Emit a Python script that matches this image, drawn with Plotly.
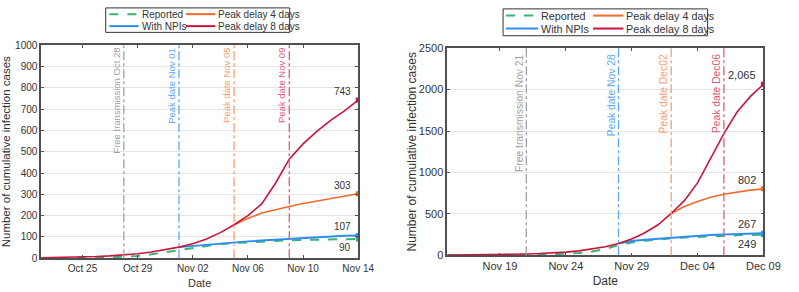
import plotly.graph_objects as go
import pandas as pd

# ---------------- data ----------------
# Left panel (Oct 22 - Nov 14)
left_start, left_end = "2022-10-22", "2022-11-14"
left_reported = [0, 0, 1, 1, 2, 4, 6, 10, 18, 28, 40, 50, 58, 67, 71, 75, 78, 81, 84, 86, 87, 88, 89, 90]
left_npi_start = "2022-11-01"
left_npi = [52, 58, 64, 69, 74, 79, 83, 87, 92, 95, 99, 102, 105, 107]
left_d4_start = "2022-11-05"
left_d4 = [157, 187, 212, 229, 243, 257, 269, 281, 293, 303]
left_d8 = [2, 3, 4, 6, 8, 11, 15, 21, 29, 39, 52, 68, 90, 120, 157, 200, 255, 352, 465, 537, 596, 647, 692, 743]
left_ticks = ["2022-10-25", "2022-10-29", "2022-11-02", "2022-11-06", "2022-11-10", "2022-11-14"]
left_tick_text = ["Oct 25", "Oct 29", "Nov 02", "Nov 06", "Nov 10", "Nov 14"]
left_vlines = ["2022-10-28", "2022-11-01", "2022-11-05", "2022-11-09"]
left_vlabels = ["Free transmission Oct 28", "Peak date Nov 01", "Peak date Nov 05", "Peak date Nov 09"]
left_end_labels = ["90", "107", "303", "743"]

# Right panel (Nov 15 - Dec 09)
right_start, right_end = "2022-11-15", "2022-12-09"
right_reported = [0, 0, 1, 1, 2, 4, 6, 9, 13, 18, 28, 45, 75, 125, 155, 175, 192, 205, 215, 224, 231, 237, 242, 246, 249]
right_npi_start = "2022-11-28"
right_npi = [143, 172, 188, 201, 213, 226, 237, 245, 252, 258, 263, 267]
right_d4_start = "2022-12-02"
right_d4 = [505, 590, 650, 700, 738, 765, 787, 802]
right_d8 = [2, 3, 5, 7, 9, 12, 16, 21, 28, 39, 54, 75, 103, 143, 198, 272, 369, 505, 660, 874, 1165, 1468, 1730, 1915, 2065]
right_ticks = ["2022-11-19", "2022-11-24", "2022-11-29", "2022-12-04", "2022-12-09"]
right_tick_text = ["Nov 19", "Nov 24", "Nov 29", "Dec 04", "Dec 09"]
right_vlines = ["2022-11-21", "2022-11-28", "2022-12-02", "2022-12-06"]
right_vlabels = ["Free transmission Nov 21", "Peak date Nov 28", "Peak date Dec02", "Peak date Dec06"]
right_end_labels = ["249", "267", "802", "2,065"]

series_names = ["Reported", "With NPIs", "Peak delay 4 days", "Peak delay 8 days"]

# ---------------- styles ----------------
C_GREEN = "#3bb273"
C_BLUE = "#2e8ef0"
C_ORANGE = "#f06a2c"
C_RED = "#c8153a"
V_COLORS = ["#a0a0a0", "#5aa8f5", "#f4a070", "#dd5c78"]
FONT = "Liberation Sans, Arial, sans-serif"
TXT = "#333333"
W, H = 799, 292


def px(x):
    return x / W


def py(y):
    return 1 - y / H


fig = go.Figure()


def add_panel(ax, start, end, rep, npi_start, npi, d4_start, d4, d8, ends, fs):
    xa = "x" if ax == 1 else f"x{ax}"
    ya = "y" if ax == 1 else f"y{ax}"
    dates = pd.date_range(start, end, freq="D")
    npi_d = pd.date_range(npi_start, end, freq="D")
    d4_d = pd.date_range(d4_start, end, freq="D")
    fig.add_trace(go.Scatter(x=dates, y=rep, mode="lines", line=dict(color=C_GREEN, width=2, dash="dash"),
                             name=series_names[0], showlegend=False, xaxis=xa, yaxis=ya))
    fig.add_trace(go.Scatter(x=npi_d, y=npi, mode="lines", line=dict(color=C_BLUE, width=2),
                             name=series_names[1], showlegend=False, xaxis=xa, yaxis=ya))
    fig.add_trace(go.Scatter(x=d4_d, y=d4, mode="lines", line=dict(color=C_ORANGE, width=1.6),
                             name=series_names[2], showlegend=False, xaxis=xa, yaxis=ya))
    fig.add_trace(go.Scatter(x=dates, y=d8, mode="lines", line=dict(color=C_RED, width=1.6),
                             name=series_names[3], showlegend=False, xaxis=xa, yaxis=ya))
    finals = [rep[-1], npi[-1], d4[-1], d8[-1]]
    cols = [C_GREEN, C_BLUE, C_ORANGE, C_RED]
    fig.add_trace(go.Scatter(x=[dates[-1]] * 4, y=finals, mode="markers",
                             marker=dict(color=cols, size=5, symbol="square"),
                             showlegend=False, xaxis=xa, yaxis=ya, hoverinfo="skip"))
    for i, (v, lab) in enumerate(zip(finals, ends)):
        below = (i == 0)
        fig.add_annotation(x=dates[-1], y=v, xref=xa, yref=ya, text=lab, showarrow=False,
                           xanchor="right", yanchor="top" if below else "bottom",
                           xshift=-5, yshift=-1 if below else 1,
                           font=dict(family=FONT, size=fs, color=TXT))


def add_vlines(ax, vl, labels, fs, yshift):
    xa = "x" if ax == 1 else f"x{ax}"
    ya = "y" if ax == 1 else f"y{ax}"
    for d, lab, c in zip(vl, labels, V_COLORS):
        fig.add_shape(type="line", x0=d, x1=d, y0=0, y1=1, xref=xa, yref=f"{ya} domain",
                      line=dict(color=c, width=1.3, dash="dashdot"))
        fig.add_annotation(x=d, y=1, xref=xa, yref=f"{ya} domain", text=lab, showarrow=False,
                           textangle=-90, xanchor="right", yanchor="top", xshift=0, yshift=yshift,
                           font=dict(family=FONT, size=fs, color=c))


add_panel(1, left_start, left_end, left_reported, left_npi_start, left_npi, left_d4_start, left_d4,
          left_d8, left_end_labels, 10)
add_panel(2, right_start, right_end, right_reported, right_npi_start, right_npi, right_d4_start, right_d4,
          right_d8, right_end_labels, 11)
add_vlines(1, left_vlines, left_vlabels, 9.5, 0)
add_vlines(2, right_vlines, right_vlabels, 10.3, -4)


def legend(box, rows, line_x, col2_line_x, fs):
    x0, x1, y0, y1 = box
    fig.add_shape(type="rect", xref="paper", yref="paper", x0=px(x0), x1=px(x1), y0=py(y1), y1=py(y0),
                  line=dict(color="#333333", width=1), fillcolor="white")
    entries = [(series_names[0], C_GREEN, "dash", line_x, rows[0]),
               (series_names[1], C_BLUE, "solid", line_x, rows[1]),
               (series_names[2], C_ORANGE, "solid", col2_line_x, rows[0]),
               (series_names[3], C_RED, "solid", col2_line_x, rows[1])]
    for name, col, dash, (lx0, lx1), ry in entries:
        fig.add_shape(type="line", xref="paper", yref="paper", x0=px(lx0), x1=px(lx1), y0=py(ry), y1=py(ry),
                      line=dict(color=col, width=2, dash=dash))
        fig.add_annotation(x=px(lx1 + 1), y=py(ry), xref="paper", yref="paper", text=name, showarrow=False,
                           xanchor="left", yanchor="middle", font=dict(family=FONT, size=fs, color=TXT))


legend((108, 296, 2, 27.5), (8.5, 21), (111.7, 141.7), (190, 220), 10)
legend((514, 723, 3, 31), (10, 23.5), (517, 550), (606, 637), 10.8)

axis_common = dict(showline=True, linecolor="#505050", linewidth=1.5, mirror="ticks", ticks="inside",
                   tickcolor="#505050", ticklen=3, tickwidth=1.2, zeroline=False)

fig.update_layout(
    width=W, height=H, margin=dict(l=0, r=0, t=0, b=0), plot_bgcolor="white", paper_bgcolor="white",
    showlegend=False, font=dict(family=FONT, color=TXT),
    xaxis=dict(domain=[px(42), px(366)], anchor="y", type="date", range=[left_start, left_end],
               tickvals=left_ticks, ticktext=left_tick_text, showgrid=False,
               tickfont=dict(size=10, color=TXT), title=dict(text="Date", font=dict(size=11), standoff=6),
               **axis_common),
    yaxis=dict(domain=[py(263), py(41)], anchor="x", range=[0, 1000], dtick=100, showgrid=True,
               gridcolor="#e4e4e4", gridwidth=1.3, tickfont=dict(size=10, color=TXT),
               title=dict(text="Number of cumulative infection cases", font=dict(size=11.5), standoff=2),
               **axis_common),
    xaxis2=dict(domain=[px(457), px(780)], anchor="y2", type="date", range=[right_start, right_end],
                tickvals=right_ticks, ticktext=right_tick_text, showgrid=False,
                tickfont=dict(size=11, color=TXT), title=dict(text="Date", font=dict(size=12), standoff=5),
                **axis_common),
    yaxis2=dict(domain=[py(260), py(44)], anchor="x2", range=[0, 2500], dtick=500, showgrid=True,
                gridcolor="#e4e4e4", gridwidth=1.3, tickfont=dict(size=11, color=TXT),
                title=dict(text="Number of cumulative infection cases", font=dict(size=12), standoff=0),
                **axis_common),
)

fig.write_html("out.html", config={"displayModeBar": False},
               post_script="document.body.style.margin='0px';document.body.style.overflow='hidden';")
